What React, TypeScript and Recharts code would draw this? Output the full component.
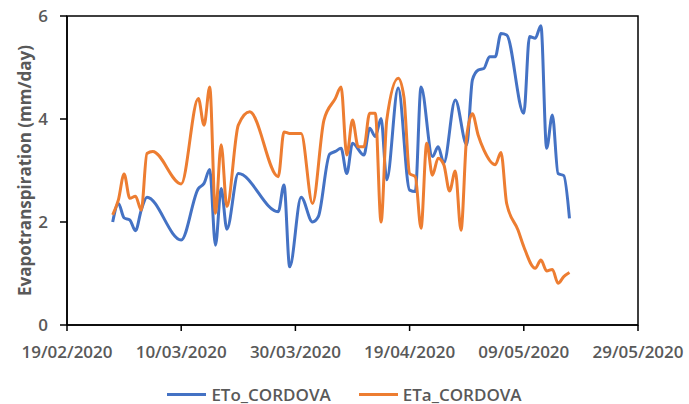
import React from 'react'
import { LineChart, Line, XAxis, YAxis, Legend, ReferenceArea, Label } from 'recharts'

// dates in 2020 (mm-dd), values in mm/day
const etoDates = [
  '02-27', '02-28', '02-29', '03-01', '03-02', '03-03', '03-04', '03-10', '03-13', '03-14',
  '03-15', '03-16', '03-17', '03-18', '03-20', '03-27', '03-28', '03-29', '03-31', '04-02',
  '04-03', '04-05', '04-06', '04-07', '04-08', '04-09', '04-11', '04-12', '04-13', '04-14',
  '04-15', '04-17', '04-19', '04-20', '04-21', '04-23', '04-24', '04-25', '04-27', '04-29',
  '04-30', '05-01', '05-02', '05-03', '05-04', '05-05', '05-06', '05-09', '05-10', '05-11',
  '05-12', '05-13', '05-14', '05-15', '05-16', '05-17',
]
const etoValues = [
  2.0, 2.36, 2.08, 2.04, 1.83, 2.23, 2.48, 1.65, 2.65, 2.75,
  3.02, 1.55, 2.65, 1.86, 2.94, 2.2, 2.72, 1.13, 2.48, 2.0,
  2.1, 3.32, 3.37, 3.43, 2.94, 3.53, 3.3, 3.82, 3.66, 4.01,
  2.82, 4.6, 2.62, 2.59, 4.62, 3.27, 3.46, 3.15, 4.37, 3.5,
  4.76, 4.95, 4.98, 5.21, 5.21, 5.66, 5.63, 4.11, 5.6, 5.57,
  5.81, 3.43, 4.08, 2.94, 2.9, 2.07,
]

const etaDates = [
  '02-27', '02-28', '02-29', '03-01', '03-02', '03-03', '03-04', '03-05', '03-10', '03-13',
  '03-14', '03-15', '03-16', '03-17', '03-18', '03-20', '03-22', '03-27', '03-28', '03-29',
  '03-31', '04-02', '04-04', '04-06', '04-07', '04-08', '04-09', '04-10', '04-11', '04-12',
  '04-13', '04-14', '04-15', '04-17', '04-18', '04-19', '04-20', '04-21', '04-22', '04-23',
  '04-24', '04-25', '04-26', '04-27', '04-28', '04-29', '04-30', '05-01', '05-02', '05-04',
  '05-05', '05-06', '05-08', '05-09', '05-11', '05-12', '05-13', '05-14', '05-15', '05-16',
  '05-17',
]
const etaValues = [
  2.14, 2.43, 2.93, 2.46, 2.5, 2.23, 3.33, 3.37, 2.74, 4.4,
  3.88, 4.62, 2.17, 3.5, 2.3, 3.88, 4.14, 2.88, 3.75, 3.72,
  3.72, 2.36, 3.98, 4.4, 4.62, 3.3, 3.98, 3.46, 3.46, 4.11,
  4.11, 2.0, 3.98, 4.79, 4.43, 2.94, 2.88, 1.88, 3.53, 2.91,
  3.24, 3.11, 2.6, 2.99, 1.84, 3.66, 4.1, 3.69, 3.4, 3.11,
  3.35, 2.36, 1.84, 1.52, 1.1, 1.26, 1.05, 1.08, 0.81, 0.94,
  1.02,
]

const xTickDates = ['2020-02-19', '2020-03-10', '2020-03-30', '2020-04-19', '2020-05-09', '2020-05-29']
const yTicks = [0, 2, 4, 6]

const BLUE = '#4472C4'
const ORANGE = '#ED7D31'
const TEXT = '#595959'
const FONT = "'Open Sans', sans-serif"

const toTime = (iso: string) => {
  const [y, m, d] = iso.split('-').map(Number)
  return Date.UTC(y, m - 1, d)
}
const pad = (n: number) => String(n).padStart(2, '0')
const fmtDate = (t: number) => {
  const d = new Date(t)
  return `${pad(d.getUTCDate())}/${pad(d.getUTCMonth() + 1)}/${d.getUTCFullYear()}`
}

const etoData = etoDates.map((d, i) => ({ t: toTime('2020-' + d), value: etoValues[i] }))
const etaData = etaDates.map((d, i) => ({ t: toTime('2020-' + d), value: etaValues[i] }))
const xTicks = xTickDates.map(toTime)
const xMin = xTicks[0]
const xMax = xTicks[xTicks.length - 1]

const legendItems = [
  { name: 'ETo_CORDOVA', color: BLUE },
  { name: 'ETa_CORDOVA', color: ORANGE },
]

function ChartLegend() {
  return (
    <div style={{ display: 'flex', justifyContent: 'center', alignItems: 'center', height: 28, paddingTop: 8, boxSizing: 'border-box', fontFamily: FONT, fontWeight: 600, fontSize: 17, color: TEXT }}>
      {legendItems.map((it, i) => (
        <div key={it.name} style={{ display: 'flex', alignItems: 'center', marginLeft: i ? 28 : 0 }}>
          <span style={{ display: 'inline-block', width: 39, height: 3, background: it.color, marginRight: 5 }} />
          <span>{it.name}</span>
        </div>
      ))}
    </div>
  )
}

export default function App() {
  const tickStyle = { fill: TEXT, fontFamily: FONT, fontWeight: 600, fontSize: 17 }
  return (
    <div style={{ position: 'absolute', left: 0, top: 0, background: '#fff' }}>
      <LineChart width={689} height={404} margin={{ top: 16, right: 51, left: 0, bottom: 0 }}>
        <XAxis
          dataKey="t"
          type="number"
          domain={[xMin, xMax]}
          ticks={xTicks}
          tickFormatter={fmtDate}
          allowDataOverflow
          height={51}
          tick={tickStyle}
          tickSize={6}
          tickMargin={15}
          axisLine={{ stroke: '#000', strokeWidth: 1.5 }}
          tickLine={{ stroke: '#000', strokeWidth: 1.5 }}
          interval={0}
        />
        <YAxis
          type="number"
          domain={[0, 6]}
          ticks={yTicks}
          width={67}
          tick={tickStyle}
          tickSize={7}
          tickMargin={12}
          axisLine={{ stroke: '#000', strokeWidth: 1.5 }}
          tickLine={{ stroke: '#000', strokeWidth: 1.5 }}
        >
          <Label
            content={({ viewBox }: any) => {
              const cx = 24
              const cy = viewBox.y + viewBox.height / 2
              return (
                <text x={cx} y={cy} transform={`rotate(-90 ${cx} ${cy})`} textAnchor="middle" dominantBaseline="central" fill={TEXT} fontFamily={FONT} fontWeight={700} fontSize={17}>
                  Evapotranspiration (mm/day)
                </text>
              )
            }}
          />
        </YAxis>
        <ReferenceArea x1={xMin} x2={xMax} y1={0} y2={6} fill="none" stroke="#000" strokeWidth={1.5} />
        <Line data={etoData} dataKey="value" name="ETo_CORDOVA" type="monotone" stroke={BLUE} strokeWidth={3} dot={false} isAnimationActive={false} />
        <Line data={etaData} dataKey="value" name="ETa_CORDOVA" type="monotone" stroke={ORANGE} strokeWidth={3} dot={false} isAnimationActive={false} />
        <Legend verticalAlign="bottom" content={<ChartLegend />} wrapperStyle={{ left: 0, width: 689 }} />
      </LineChart>
    </div>
  )
}
